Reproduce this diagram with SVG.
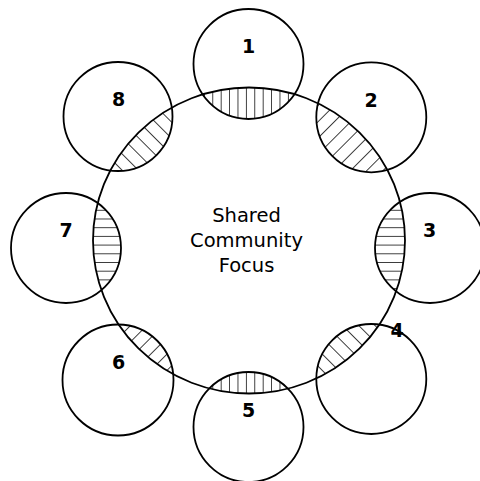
<svg xmlns="http://www.w3.org/2000/svg" width="480" height="481" viewBox="0 0 480 481">
  <style>
    .ring { fill: none; stroke: #000; stroke-width: 1.8; }
    .num { font-family: "DejaVu Sans", Verdana, sans-serif; font-weight: bold; font-size: 19px; text-anchor: middle; fill: #000; }
    .focus { font-family: "DejaVu Sans", Verdana, sans-serif; font-size: 19.5px; text-anchor: middle; fill: #000; }
    .hl { stroke: #000; stroke-width: 1.5; }
  </style>
  <defs>
    <!-- hatch fills -->
    <pattern id="hV" patternUnits="userSpaceOnUse" width="8.4" height="10" x="2.3">
      <line class="hl" x1="0" y1="0" x2="0" y2="10"/>
    </pattern>
    <pattern id="hH" patternUnits="userSpaceOnUse" width="10" height="8.7" y="1">
      <line class="hl" x1="0" y1="0" x2="10" y2="0"/>
    </pattern>
    <pattern id="hF" patternUnits="userSpaceOnUse" width="11.5" height="10" patternTransform="rotate(45)">
      <line class="hl" x1="0" y1="0" x2="0" y2="10"/>
    </pattern>
    <pattern id="hB" patternUnits="userSpaceOnUse" width="11.5" height="10" patternTransform="rotate(-45)">
      <line class="hl" x1="0" y1="0" x2="0" y2="10"/>
    </pattern>
    <clipPath id="cBig"><ellipse cx="249" cy="240.5" rx="156" ry="153"/></clipPath>
    <clipPath id="c1"><circle cx="248.5" cy="64" r="55"/></clipPath>
    <clipPath id="c2"><circle cx="371.3" cy="117.3" r="55"/></clipPath>
    <clipPath id="c3"><circle cx="430" cy="248" r="55"/></clipPath>
    <clipPath id="c4"><circle cx="371.3" cy="379" r="55"/></clipPath>
    <clipPath id="c5"><circle cx="248.5" cy="427" r="55"/></clipPath>
    <clipPath id="c6"><circle cx="118" cy="380" r="55.5"/></clipPath>
    <clipPath id="c7"><circle cx="66" cy="248" r="55"/></clipPath>
    <clipPath id="c8"><circle cx="118" cy="116.5" r="54.5"/></clipPath>
  </defs>

  <rect width="480" height="481" fill="#fff"/>

  <!-- overlap hatching: each lens = satellite circle ∩ central circle -->
  <g id="overlaps" clip-path="url(#cBig)">
    <rect x="190" y="5" width="120" height="120" fill="url(#hV)" clip-path="url(#c1)"/>
    <rect x="310" y="60" width="125" height="120" fill="url(#hF)" clip-path="url(#c2)"/>
    <rect x="370" y="190" width="110" height="120" fill="url(#hH)" clip-path="url(#c3)"/>
    <rect x="310" y="320" width="125" height="120" fill="url(#hB)" clip-path="url(#c4)"/>
    <rect x="190" y="365" width="120" height="116" fill="url(#hV)" clip-path="url(#c5)"/>
    <rect x="60" y="320" width="120" height="120" fill="url(#hF)" clip-path="url(#c6)"/>
    <rect x="5" y="190" width="125" height="120" fill="url(#hH)" clip-path="url(#c7)"/>
    <rect x="60" y="60" width="120" height="120" fill="url(#hB)" clip-path="url(#c8)"/>
  </g>

  <g id="focus">
    <ellipse class="ring" cx="249" cy="240.5" rx="156" ry="153"/>
    <text class="focus" x="246.5" y="221.5">Shared</text>
    <text class="focus" x="246.5" y="246.5">Community</text>
    <text class="focus" x="246.5" y="271.5">Focus</text>
  </g>

  <g id="n1"><circle class="ring" cx="248.5" cy="64" r="55"/><text class="num" x="248.5" y="53">1</text></g>
  <g id="n2"><circle class="ring" cx="371.3" cy="117.3" r="55"/><text class="num" x="371" y="106.5">2</text></g>
  <g id="n3"><circle class="ring" cx="430" cy="248" r="55"/><text class="num" x="429.5" y="236.5">3</text></g>
  <g id="n4"><circle class="ring" cx="371.3" cy="379" r="55"/><text class="num" x="397" y="337">4</text></g>
  <g id="n5"><circle class="ring" cx="248.5" cy="427" r="55"/><text class="num" x="248.5" y="416.5">5</text></g>
  <g id="n6"><circle class="ring" cx="118" cy="380" r="55.5"/><text class="num" x="118.5" y="369">6</text></g>
  <g id="n7"><circle class="ring" cx="66" cy="248" r="55"/><text class="num" x="66" y="236.5">7</text></g>
  <g id="n8"><circle class="ring" cx="118" cy="116.5" r="54.5"/><text class="num" x="118.5" y="106">8</text></g>
</svg>
